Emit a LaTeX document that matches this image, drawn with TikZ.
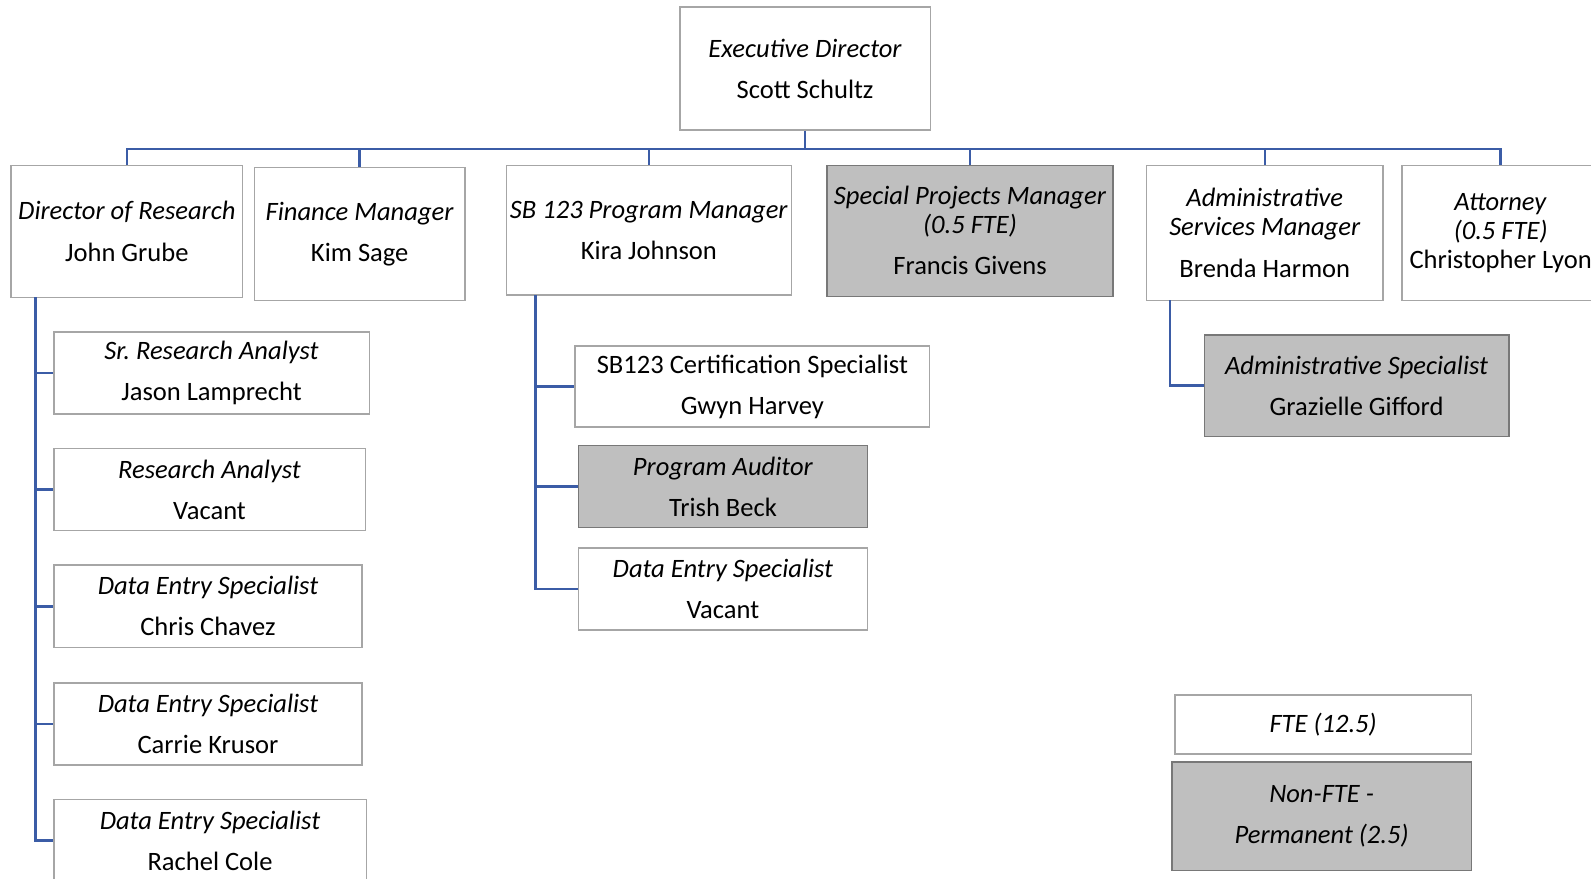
\documentclass[tikz,border=0pt]{standalone}
\usepackage{fontspec}
\setmainfont{Carlito}
\frenchspacing
\definecolor{linkblue}{RGB}{59,92,166}
\definecolor{boxgrey}{RGB}{191,191,191}
\definecolor{edgegrey}{RGB}{166,166,166}
\definecolor{darkedge}{RGB}{120,120,120}
\tikzset{
    post/.style={rectangle,draw=edgegrey,line width=1.1pt,fill=white,align=center,inner sep=0pt,
        font=\fontsize{18.6}{20.3}\selectfont},
    greypost/.style={post,draw=darkedge,fill=boxgrey},
}
\begin{document}
\begin{tikzpicture}[x=0.025cm,y=-0.025cm]
        \clip (0,0) rectangle (1568,866);
        \fill[white] (0,0) rectangle (1568,866);
        \begin{scope}[every node/.style={post}]
            \node (exec) at (793.5,67.5) [minimum width=6.175cm,minimum height=3.025cm] {\textit{Executive Director}\\[8.5pt]Scott Schultz};
            \node (res) at (125,228) [minimum width=5.7cm,minimum height=3.25cm] {\textit{Director of Research}\\[8.5pt]John Grube};
            \node (fin) at (354.5,230.5) [minimum width=5.175cm,minimum height=3.275cm] {\textit{Finance Manager}\\[8.5pt]Kim Sage};
            \node (sb) at (639.5,227) [minimum width=7.025cm,minimum height=3.2cm] {\textit{SB 123 Program Manager}\\[8.5pt]Kira Johnson};
            \node (spm) at (956,227.5) [greypost,minimum width=7.05cm,minimum height=3.225cm] {\textit{Special Projects Manager}\\\textit{(0.5 FTE)}\\[8.5pt]Francis Givens};
            \node (adm) at (1246.5,229.5) [minimum width=5.825cm,minimum height=3.325cm] {\textit{Administrative}\\\textit{Services Manager}\\[8.5pt]Brenda Harmon};
            \node (att) at (1479,229.5) [minimum width=4.85cm,minimum height=3.325cm] {\textit{Attorney}\\\textit{(0.5 FTE)}\\Christopher Lyon};
            % research staff
            \node (sra) at (208.5,367.5) [minimum width=7.775cm,minimum height=2.025cm] {\textit{Sr. Research Analyst}\\[8.5pt]Jason Lamprecht};
            \node (ra) at (206.5,482.5) [minimum width=7.675cm,minimum height=2.025cm] {\textit{Research Analyst}\\[8.5pt]Vacant};
            \node (de1) at (205,597.5) [minimum width=7.6cm,minimum height=2.025cm] {\textit{Data Entry Specialist}\\[8.5pt]Chris Chavez};
            \node (de2) at (205,713.5) [minimum width=7.6cm,minimum height=2.025cm] {\textit{Data Entry Specialist}\\[8.5pt]Carrie Krusor};
            \node (de3) at (207,828.5) [minimum width=7.7cm,minimum height=2.025cm] {\textit{Data Entry Specialist}\\[8.5pt]Rachel Cole};
            % program staff
            \node (cert) at (741.5,381) [minimum width=8.725cm,minimum height=2cm] {SB123 Certification Specialist\\[8.5pt]Gwyn Harvey};
            \node (aud) at (712.5,479.5) [greypost,minimum width=7.125cm,minimum height=2.025cm] {\textit{Program Auditor}\\[8.5pt]Trish Beck};
            \node (de4) at (712.5,580.5) [minimum width=7.125cm,minimum height=2.025cm] {\textit{Data Entry Specialist}\\[8.5pt]Vacant};
            % admin staff
            \node (as) at (1337,380) [greypost,minimum width=7.5cm,minimum height=2.5cm] {\textit{Administrative Specialist}\\[8.5pt]Grazielle Gifford};
            % key
            \node (fte) at (1304,714) [minimum width=7.3cm,minimum height=1.45cm] {\textit{FTE (12.5)}};
            \node (nfte) at (1302.5,804.5) [greypost,minimum width=7.375cm,minimum height=2.675cm] {\textit{Non-FTE -}\\[8.5pt]\textit{Permanent (2.5)}};
        \end{scope}
        \coordinate (bus) at (793.5,147);
        \coordinate (resleg) at (35,293);
        \coordinate (sbleg) at (528,291);
        \coordinate (admleg) at (1153,296);
        \begin{scope}[every edge/.style={draw,linkblue,line width=1.8pt,to path={-| (\tikztotarget)}}]
            \path
                (exec) edge[to path={-- (\tikztotarget)}] (bus)
                (bus) edge (res.north)
                (bus) edge (fin.north)
                (bus) edge (sb.north)
                (bus) edge (spm.north)
                (bus) edge (adm.north)
                (bus) edge (att.north);
        \end{scope}
        \begin{scope}[every edge/.style={draw,linkblue,line width=1.8pt,to path={|- (\tikztotarget)}}]
            \path
                (resleg) edge (sra.west)
                (resleg) edge (ra.west)
                (resleg) edge (de1.west)
                (resleg) edge (de2.west)
                (resleg) edge (de3.west);
            \path
                (sbleg) edge (cert.west)
                (sbleg) edge (aud.west)
                (sbleg) edge (de4.west);
            \path
                (admleg) edge (as.west);
        \end{scope}
    \end{tikzpicture}
\end{document}
